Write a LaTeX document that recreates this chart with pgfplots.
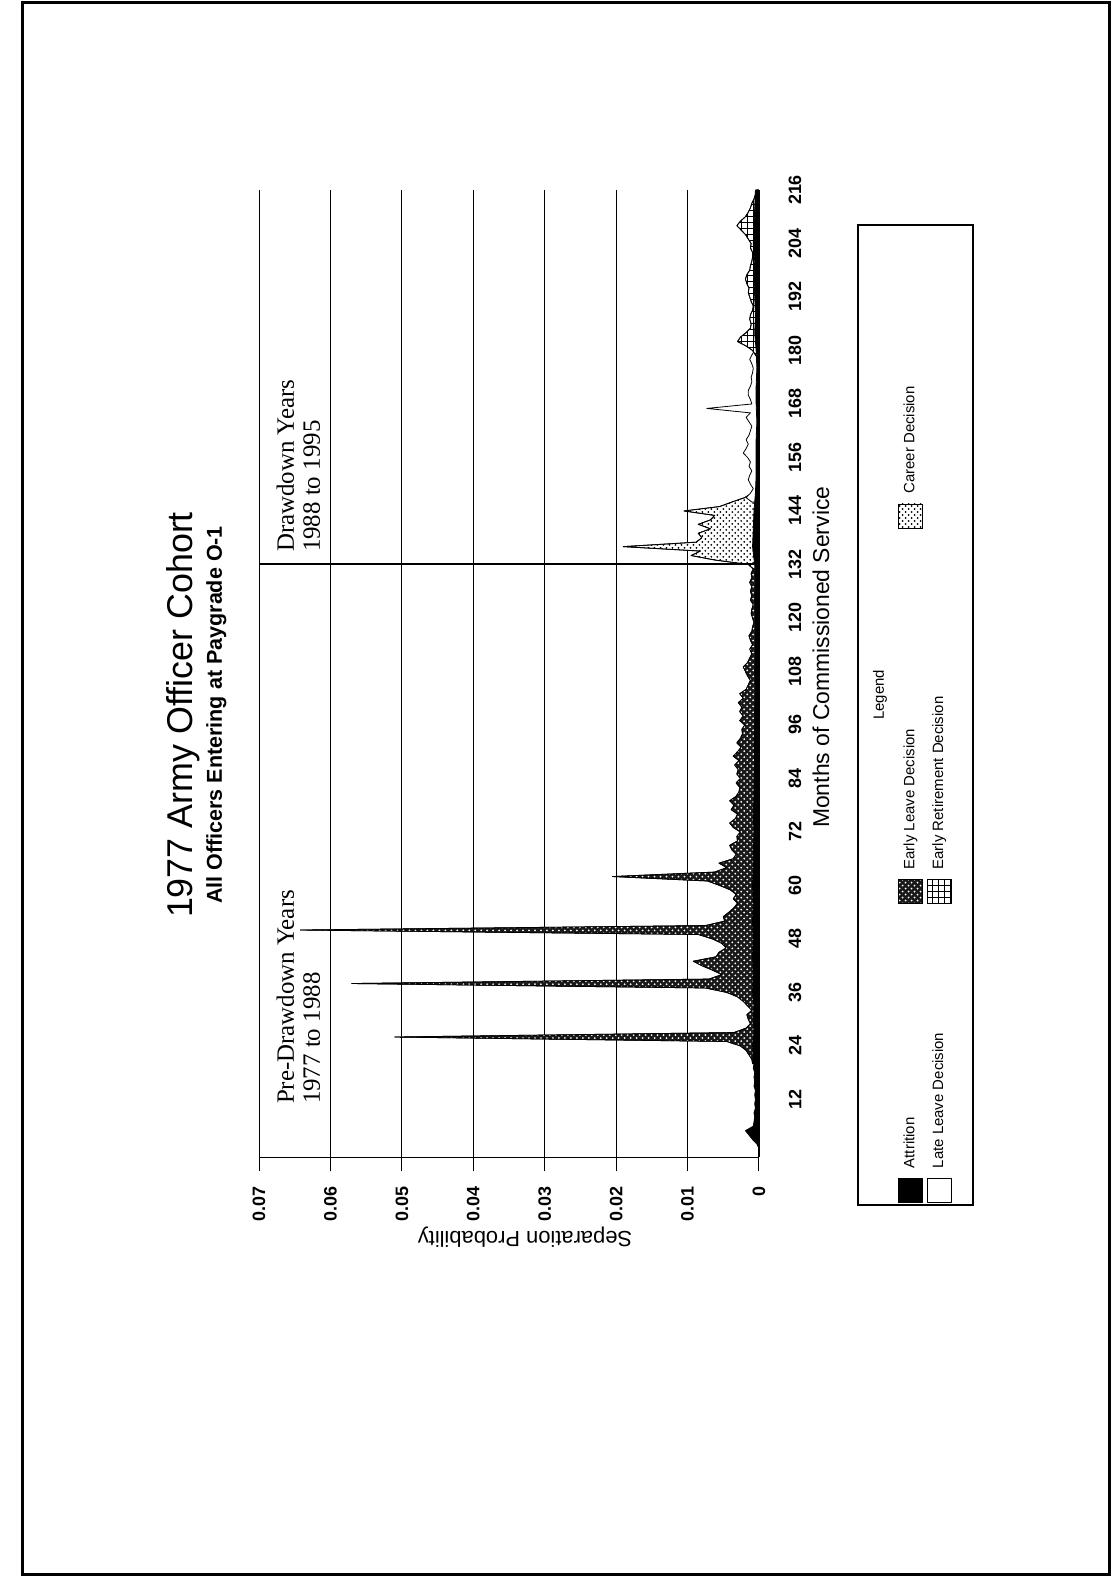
\documentclass[border=0pt]{standalone}
\usepackage{fontspec}
\setmainfont{Liberation Sans}
\newfontfamily\seriffont{Liberation Serif}
\usepackage{graphicx}
\usepackage{pgfplots}
\pgfplotsset{compat=1.18}
\usepackage{pgfplotstable}
\usetikzlibrary{patterns}

% separation probability by month of commissioned service
\pgfplotstableread{
m p
1 0.0000
2 0.0003
3 0.0009
4 0.0014
5 0.0019
6 0.0008
7 0.0007
8 0.0006
9 0.0007
10 0.0005
11 0.0006
12 0.0005
13 0.0006
14 0.0005
15 0.0007
16 0.0006
17 0.0007
18 0.0006
19 0.0008
20 0.0007
21 0.0009
22 0.0008
24 0.0009
27 0.0007
30 0.0008
33 0.0007
36 0.0009
40 0.0008
44 0.0009
48 0.0008
52 0.0009
56 0.0008
60 0.0009
64 0.0008
68 0.0008
72 0.0007
76 0.0008
80 0.0007
84 0.0007
88 0.0006
92 0.0007
96 0.0006
100 0.0006
104 0.0005
108 0.0006
112 0.0005
116 0.0005
120 0.0005
124 0.0006
128 0.0005
132 0.0006
136 0.0009
140 0.0008
144 0.0007
148 0.0005
152 0.0004
156 0.0004
160 0.0004
164 0.0003
168 0.0004
172 0.0004
176 0.0003
180 0.0004
184 0.0006
188 0.0005
192 0.0006
196 0.0007
200 0.0006
204 0.0008
208 0.0007
212 0.0006
216 0.0005
}\attrition

\pgfplotstableread{
m p
20 0.0009
21 0.0010
22 0.0014
23 0.0018
24 0.0026
25 0.0045
26 0.0510
27 0.0035
28 0.0018
29 0.0012
30 0.0015
31 0.0017
32 0.0010
33 0.0016
34 0.0022
35 0.0030
36 0.0045
37 0.0075
38 0.0570
39 0.0070
40 0.0052
41 0.0065
42 0.0080
43 0.0092
44 0.0060
45 0.0056
46 0.0046
47 0.0052
48 0.0065
49 0.0085
50 0.0642
51 0.0075
52 0.0048
53 0.0050
54 0.0042
55 0.0035
56 0.0030
57 0.0036
58 0.0032
59 0.0040
60 0.0055
61 0.0072
62 0.0205
63 0.0062
64 0.0045
65 0.0056
66 0.0036
67 0.0032
68 0.0038
69 0.0041
70 0.0030
71 0.0031
72 0.0026
73 0.0036
74 0.0041
75 0.0033
76 0.0030
77 0.0039
78 0.0035
79 0.0041
80 0.0032
81 0.0028
82 0.0027
83 0.0032
84 0.0026
85 0.0031
86 0.0029
87 0.0034
88 0.0028
89 0.0036
90 0.0030
91 0.0025
92 0.0031
93 0.0026
94 0.0023
95 0.0024
96 0.0020
97 0.0027
98 0.0022
99 0.0027
100 0.0024
101 0.0029
102 0.0022
103 0.0027
104 0.0018
105 0.0015
106 0.0012
107 0.0016
108 0.0019
109 0.0022
110 0.0016
111 0.0013
112 0.0010
113 0.0013
114 0.0009
115 0.0012
116 0.0014
117 0.0010
118 0.0009
119 0.0007
120 0.0009
121 0.0011
122 0.0010
123 0.0008
124 0.0012
125 0.0010
126 0.0012
127 0.0010
128 0.0013
129 0.0010
130 0.0011
131 0.0008
132 0.0007
133 0.0000
}\earlyleave

\pgfplotstableread{
m p
131 0.0008
132 0.0015
133 0.0062
134 0.0095
135 0.0082
136 0.0190
137 0.0088
138 0.0080
139 0.0085
140 0.0068
141 0.0085
142 0.0068
143 0.0062
144 0.0105
145 0.0055
146 0.0038
147 0.0020
148 0.0010
149 0.0006
}\career

\pgfplotstableread{
m p
146 0.0010
147 0.0018
148 0.0012
149 0.0008
150 0.0012
151 0.0015
152 0.0013
153 0.0010
154 0.0014
155 0.0012
156 0.0016
157 0.0022
158 0.0018
159 0.0015
160 0.0018
161 0.0014
162 0.0012
163 0.0010
164 0.0014
165 0.0018
166 0.0012
167 0.0073
168 0.0010
169 0.0012
170 0.0015
171 0.0015
172 0.0012
173 0.0010
174 0.0011
175 0.0009
176 0.0008
177 0.0010
178 0.0013
179 0.0010
180 0.0006
}\lateleave

\pgfplotstableread{
m p
178 0.0000
179 0.0005
180 0.0009
181 0.0018
182 0.0030
183 0.0026
184 0.0018
185 0.0012
186 0.0011
187 0.0013
188 0.0012
189 0.0009
190 0.0008
191 0.0011
192 0.0013
193 0.0015
194 0.0014
195 0.0017
196 0.0019
197 0.0017
198 0.0013
199 0.0012
200 0.0010
201 0.0009
202 0.0009
203 0.0012
204 0.0011
205 0.0015
206 0.0019
207 0.0025
208 0.0031
209 0.0026
210 0.0019
211 0.0015
212 0.0012
213 0.0010
214 0.0007
215 0.0005
216 0.0003
}\retire

\pgfplotsset{
  attr/.style={draw=black, fill=black},
  eleave/.style={draw=black, fill=black!90,
    postaction={pattern=crosshatch dots, pattern color=white}},
  caree/.style={draw=black, fill=white,
    postaction={pattern=crosshatch dots, pattern color=black}},
  lleave/.style={draw=black, fill=white},
  eretire/.style={draw=black, fill=white,
    postaction={pattern=grid, pattern color=black}},
}

\begin{document}
\rotatebox{90}{%
\begin{tikzpicture}
\useasboundingbox (0,0) rectangle (792.5bp,558.5bp);
\draw[line width=1.5bp] (5bp,3.5bp) rectangle (791bp,547bp);

\node[anchor=base, font=\fontsize{18}{21}\selectfont] at (435bp,462bp) {1977 Army Officer Cohort};
\node[anchor=base, font=\bfseries\fontsize{10.8}{12}\selectfont] at (435bp,447.5bp) {All Officers Entering at Paygrade O-1};

\begin{axis}[
  at={(213.8bp,179bp)}, anchor=south west,
  width=483.7bp, height=250bp, scale only axis,
  xmin=-1, xmax=216, ymin=0, ymax=0.07,
  axis lines=left,
  axis line style={-, line width=0.6bp},
  ymajorgrids,
  grid style={black, line width=0.5bp},
  xtick={12,24,36,48,60,72,84,96,108,120,132,144,156,168,180,192,204,216},
  xticklabels={12,24,36,48,60,72,84,96,108,120,132,144,156,168,180,192,204,216},
  ytick={0,0.01,0.02,0.03,0.04,0.05,0.06,0.07},
  yticklabels={0,0.01,0.02,0.03,0.04,0.05,0.06,0.07},
  scaled y ticks=false,
  xtick style={draw=none},
  ytick style={black, line width=0.5bp},
  tick align=outside,
  major tick length=7bp,
  tick label style={font=\bfseries\fontsize{9}{10}\selectfont},
  xticklabel style={anchor=center, yshift=-11bp},
  yticklabel style={anchor=east, xshift=-4bp},
  xlabel={Months of Commissioned Service},
  xlabel style={at={(axis description cs:0.517,-0.124)}, anchor=center,
    font=\fontsize{11.5}{13}\selectfont},
  ylabel={Separation Probability},
  ylabel style={at={(axis description cs:-0.082,0.468)}, anchor=center,
    font=\fontsize{11}{13}\selectfont},
  every axis plot/.append style={line width=0.4bp, line join=round, no markers},
  legend columns=3,
  legend cell align=left,
  legend image code/.code={\draw[#1, line width=0.4bp] (0bp,-6bp) rectangle (12bp,6bp);},
  legend style={
    draw=none, fill=none, inner sep=0pt, outer sep=0pt,
    at={(-0.0471,-0.278)}, anchor=north west,
    row sep=2bp,
    nodes={inner sep=0pt, outer sep=0pt, font=\fontsize{7.5}{9}\selectfont},
    /tikz/every odd column/.append style={column sep=5bp},
  },
]
\addplot[eleave, forget plot] table[x=m, y=p] {\earlyleave} \closedcycle;
\addplot[caree, forget plot] table[x=m, y=p] {\career} \closedcycle;
\addplot[lleave, forget plot] table[x=m, y=p] {\lateleave} \closedcycle;
\addplot[eretire, forget plot] table[x=m, y=p] {\retire} \closedcycle;
\addplot[attr, forget plot] table[x=m, y=p] {\attrition} \closedcycle;
% start of the drawdown
\addplot[black, line width=1bp, forget plot] coordinates {(132,0) (132,0.07)};

\addlegendimage{attr}
\addlegendentry{\makebox[132bp][l]{Attrition}}
\addlegendimage{eleave}
\addlegendentry{\makebox[170.5bp][l]{Early Leave Decision}}
\addlegendimage{caree}
\addlegendentry{Career Decision}
\addlegendimage{lleave}
\addlegendentry{Late Leave Decision}
\addlegendimage{eretire}
\addlegendentry{Early Retirement Decision}
\end{axis}

\node[anchor=base west, font=\seriffont\fontsize{12.5}{13}\selectfont] at (237bp,411.5bp) {Pre-Drawdown Years};
\node[anchor=base west, font=\seriffont\fontsize{12.5}{13}\selectfont] at (237bp,398.5bp) {1977 to 1988};
\node[anchor=base west, font=\seriffont\fontsize{12.5}{13}\selectfont] at (513bp,411.5bp) {Drawdown Years};
\node[anchor=base west, font=\seriffont\fontsize{12.5}{13}\selectfont] at (513bp,398.5bp) {1988 to 1995};

\draw[line width=0.6bp] (190bp,72bp) rectangle (680bp,129.5bp);
\node[font=\fontsize{7.5}{9}\selectfont] at (445bp,118.5bp) {Legend};
\end{tikzpicture}}
\end{document}
